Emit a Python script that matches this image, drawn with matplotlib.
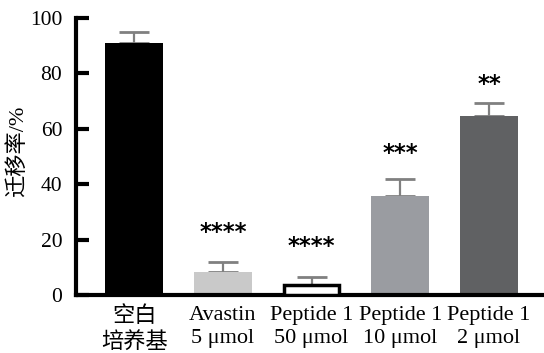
import numpy as np
import matplotlib
matplotlib.use("Agg")
import matplotlib.pyplot as plt

plt.rcParams['font.family'] = ['Liberation Serif', 'Noto Sans CJK SC']

groups = ["空白\n培养基", "Avastin\n5 μmol", "Peptide 1\n50 μmol", "Peptide 1\n10 μmol", "Peptide 1\n2 μmol"]
means = [91, 8.5, 3.5, 35.7, 64.8]
errs = [4, 3.3, 3.0, 6.3, 4.7]
stars = ["", "****", "****", "***", "**"]
star_y = [0, 18.5, 13.5, 47, 72]
colors = ["#000000", "#c9c9c9", "#ffffff", "#9a9ca1", "#606163"]

fig = plt.figure(figsize=(5.44, 3.53), dpi=100)
ax = fig.add_axes([0.14, 0.164, 0.86, 0.785])

x = np.arange(len(groups))
ax.bar(x, means, width=0.65, color=colors, edgecolor=colors, linewidth=0, zorder=2)
# hollow bar gets a thick black outline
ax.bar(x[2], means[2], width=0.62, color="white", edgecolor="black", linewidth=2.5, zorder=3)
ax.errorbar(x, means, yerr=[np.zeros(len(errs)), errs], fmt="none",
            ecolor="#808080", elinewidth=1.6, capsize=11, capthick=2, zorder=1)

for i, s in enumerate(stars):
    if s:
        ax.text(x[i], star_y[i], s, ha="center", va="bottom", fontsize=16.5,
                fontweight="bold", family="DejaVu Sans")

ax.set_xlim(-0.654, 4.62)
ax.set_ylim(0, 100)
ax.set_yticks([0, 20, 40, 60, 80, 100])
ax.set_xticks(x)
ax.set_xticklabels(groups, fontsize=16, linespacing=1.3)
ax.tick_params(axis="y", direction="in", length=9, width=3, labelsize=15.5, pad=10)
ax.tick_params(axis="x", length=0, pad=8)
for side in ["top", "right"]:
    ax.spines[side].set_visible(False)
ax.spines["left"].set_linewidth(3)
ax.spines["bottom"].set_linewidth(3)
ax.set_ylabel("迁移率/%", fontsize=16)
ax.yaxis.set_label_coords(-0.102, 0.52)

fig.savefig("out.png", dpi=100)
